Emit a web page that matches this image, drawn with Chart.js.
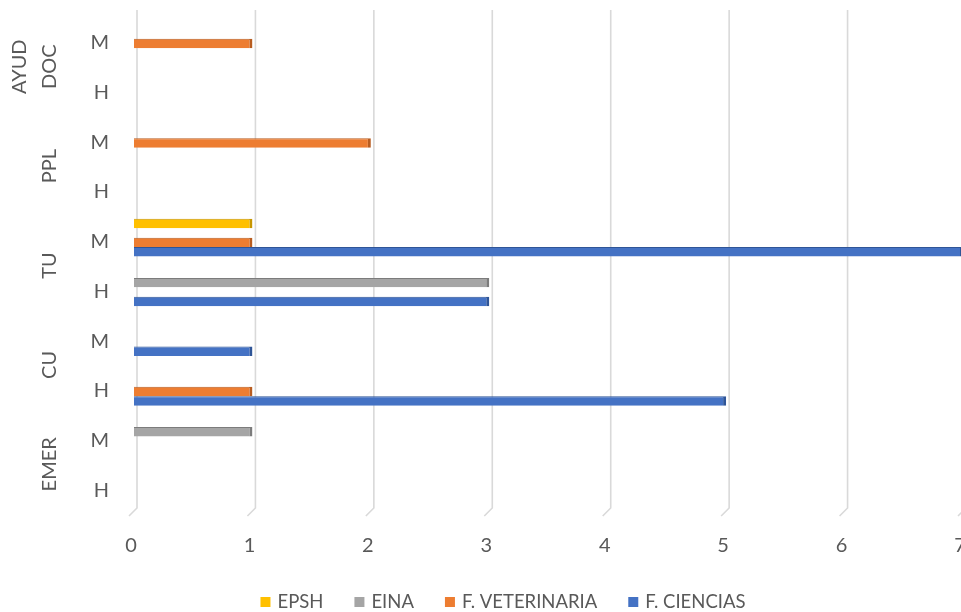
<!DOCTYPE html>
<html>
<head>
<meta charset="utf-8">
<script src="https://cdn.jsdelivr.net/npm/chart.js@4/dist/chart.umd.min.js"></script>
<style>
  html, body { margin: 0; padding: 0; background: #fff; overflow: hidden; }
</style>
</head>
<body>
<canvas id="profesoradoChart" width="1000" height="612"></canvas>
<script>
// Filas de arriba abajo (M / H dentro de cada categoría)
const filas = ['M', 'H', 'M', 'H', 'M', 'H', 'M', 'H', 'M', 'H'];
const grupos = [['AYUD', 'DOC'], ['PPL'], ['TU'], ['CU'], ['EMER']];
const valoresX = [0, 1, 2, 3, 4, 5, 6, 7];

// Número de personas por centro
const epsh        = [0, 0, 0, 0, 1, 0, 0, 0, 0, 0];
const eina        = [0, 0, 0, 0, 0, 3, 0, 0, 1, 0];
const veterinaria = [1, 0, 2, 0, 1, 0, 0, 1, 0, 0];
const ciencias    = [0, 0, 0, 0, 7, 3, 1, 5, 0, 0];

const textoGris = '#595959';
const fuente = 'Lato, "Liberation Sans", Arial, sans-serif';

// Líneas de división verticales con el pie inclinado (efecto 3D)
const rejilla3d = {
    id: 'rejilla3d',
    beforeDatasetsDraw(chart) {
        const { ctx, chartArea, scales: { x } } = chart;
        ctx.save();
        ctx.strokeStyle = '#d9d9d9';
        ctx.lineWidth = 1.6;
        valoresX.forEach(v => {
            const gx = x.getPixelForValue(v) + 3;
            ctx.beginPath();
            ctx.moveTo(gx, chartArea.top - 4);
            ctx.lineTo(gx, chartArea.bottom - 3);
            ctx.lineTo(gx - 8, chartArea.bottom + 5);
            ctx.stroke();
        });
        ctx.restore();
    }
};

// Etiquetas de categoría giradas a la izquierda de M/H
const etiquetasGrupo = {
    id: 'etiquetasGrupo',
    afterDraw(chart) {
        const { ctx, scales: { y } } = chart;
        ctx.save();
        ctx.fillStyle = textoGris;
        ctx.font = '20px ' + fuente;
        ctx.textAlign = 'center';
        ctx.textBaseline = 'middle';
        grupos.forEach((lineas, g) => {
            const cy = (y.getPixelForValue(2 * g) + y.getPixelForValue(2 * g + 1)) / 2 + 3;
            lineas.forEach((txt, i) => {
                const cx = 50 - (lineas.length - 1 - i) * 30;
                ctx.save();
                ctx.translate(cx, cy);
                ctx.rotate(-Math.PI / 2);
                ctx.fillText(txt, 0, 0);
                ctx.restore();
            });
        });
        ctx.restore();
    }
};

// Leyenda inferior dibujada a mano (separación entre elementos mayor que la vertical)
const leyenda = {
    id: 'leyenda',
    afterDraw(chart) {
        const { ctx } = chart;
        const caja = 10, huecoTexto = 7, huecoItem = 31;
        ctx.save();
        ctx.font = '18.5px ' + fuente;
        ctx.textBaseline = 'middle';
        const items = chart.data.datasets.map(ds => ({
            texto: ds.label, color: ds.backgroundColor, ancho: ctx.measureText(ds.label).width
        }));
        const total = items.reduce((s, it) => s + caja + huecoTexto + it.ancho, 0) + huecoItem * (items.length - 1);
        let px = 503 - total / 2;
        const cy = 602;
        items.forEach(it => {
            ctx.fillStyle = it.color;
            ctx.fillRect(px, cy - 5, caja, 10);
            px += caja + huecoTexto;
            ctx.fillStyle = textoGris;
            ctx.fillText(it.texto, px, cy);
            px += it.ancho + huecoItem;
        });
        ctx.restore();
    }
};

function serie(label, data, color, borde) {
    return {
        label: label,
        data: data,
        backgroundColor: color,
        borderColor: borde,
        borderWidth: { top: 1, right: 3, bottom: 0, left: 0 },
        borderSkipped: 'left',
        categoryPercentage: 0.76,
        barPercentage: 1
    };
}

const ctx = document.getElementById('profesoradoChart').getContext('2d');
const profesoradoChart = new Chart(ctx, {
    type: 'bar',
    data: {
        labels: filas,
        datasets: [
            serie('EPSH', epsh, '#ffc000', '#c79600'),
            serie('EINA', eina, '#a5a5a5', '#7c7c7c'),
            serie('F. VETERINARIA', veterinaria, '#ed7d31', '#b85d20'),
            serie('F. CIENCIAS', ciencias, '#4472c4', '#2f5597')
        ]
    },
    options: {
        indexAxis: 'y',
        responsive: false,
        animation: false,
        layout: { padding: { top: 14, right: 37, bottom: 46, left: 0 } },
        plugins: {
            tooltip: { enabled: false },
            legend: { display: false }
        },
        scales: {
            x: {
                min: 0,
                max: 7,
                grid: { display: false, drawTicks: false },
                border: { display: false },
                ticks: {
                    stepSize: 1,
                    color: textoGris,
                    padding: 23,
                    labelOffset: -3,
                    font: { family: fuente, size: 20 }
                },
                afterFit(scale) {
                    scale.height = 55;
                    scale.paddingRight = 0;
                    scale.paddingLeft = 0;
                }
            },
            y: {
                grid: { display: false, drawTicks: false },
                border: { display: false },
                ticks: {
                    color: textoGris,
                    padding: 25,
                    labelOffset: 4,
                    font: { family: fuente, size: 20 }
                },
                afterFit(scale) {
                    scale.width = 134;
                    scale.paddingTop = 0;
                    scale.paddingBottom = 0;
                }
            }
        }
    },
    plugins: [rejilla3d, etiquetasGrupo, leyenda]
});
</script>
</body>
</html>
